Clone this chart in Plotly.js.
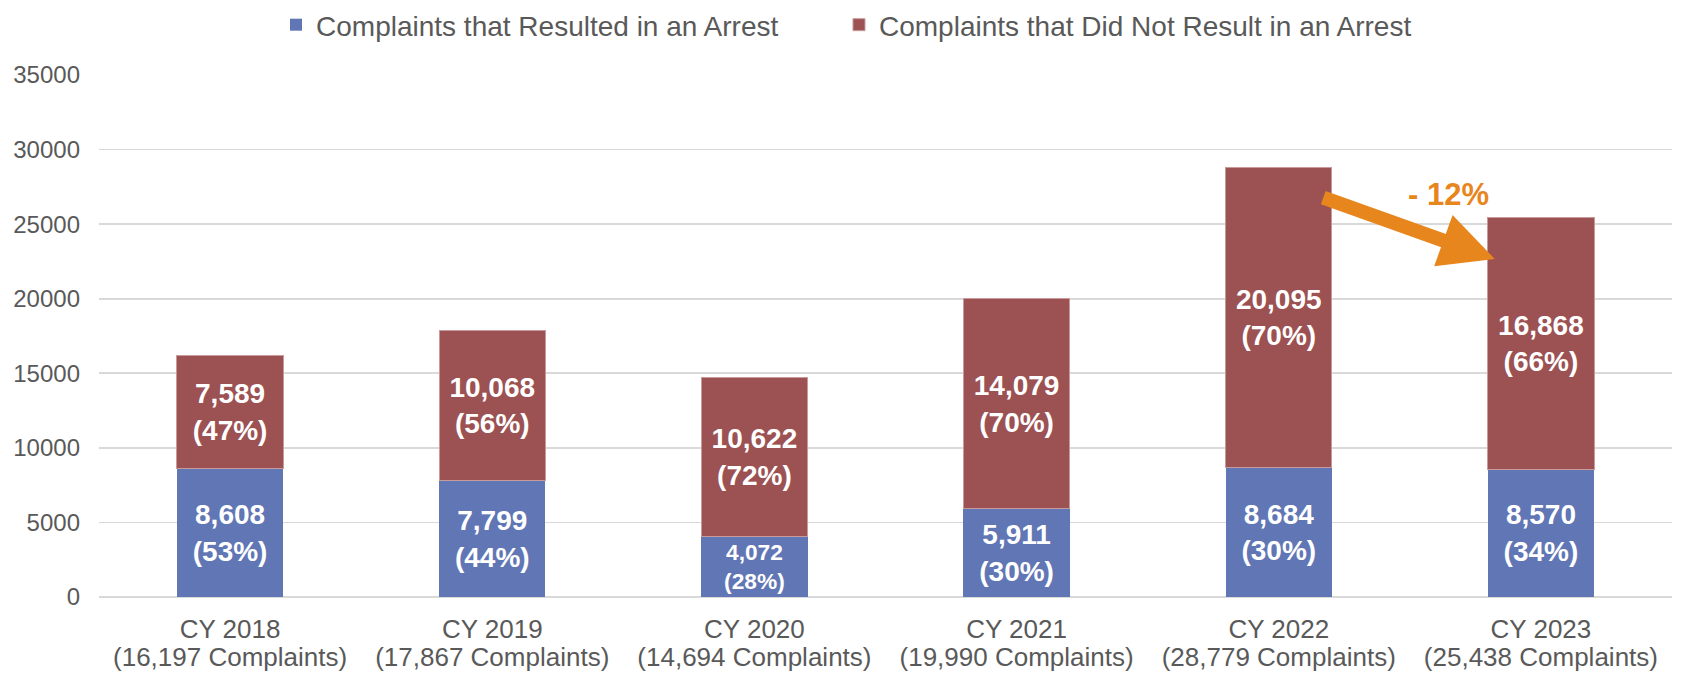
<!DOCTYPE html>
<html>
<head>
<meta charset="utf-8">
<script src="https://cdn.plot.ly/plotly-3.0.1.min.js"></script>
<style>
  html, body { margin: 0; padding: 0; background: #ffffff; }
  #chart { width: 1681px; height: 673px; }
</style>
</head>
<body>
<div id="chart"></div>
<script>
// ---- data ----
const years = ["CY 2018", "CY 2019", "CY 2020", "CY 2021", "CY 2022", "CY 2023"];
const totalLabels = ["(16,197 Complaints)", "(17,867 Complaints)", "(14,694 Complaints)", "(19,990 Complaints)", "(28,779 Complaints)", "(25,438 Complaints)"];
const arrests = [8608, 7799, 4072, 5911, 8684, 8570];
const arrestPct = [53, 44, 28, 30, 30, 34];
const noArrests = [7589, 10068, 10622, 14079, 20095, 16868];
const noArrestPct = [47, 56, 72, 70, 70, 66];
const changeLabel = "- 12%";

const FONT = '"Liberation Sans", Arial, Helvetica, sans-serif';
const fmt = v => v.toLocaleString('en-US');
const barText = (vals, pcts) => vals.map((v, i) => fmt(v) + '<br>(' + pcts[i] + '%)');

const idx = years.map((_, i) => i);

const traces = [
  {
    type: 'bar',
    name: 'Complaints that Resulted in an Arrest',
    legend: 'legend',
    x: years,
    y: arrests,
    marker: { color: '#6176B5' },
    text: barText(arrests, arrestPct),
    textposition: 'inside',
    insidetextanchor: 'middle',
    textangle: 0,
    textfont: { family: FONT, size: 28, color: '#ffffff', weight: 'bold' },
    hoverinfo: 'skip'
  },
  {
    type: 'bar',
    name: 'Complaints that Did Not Result in an Arrest',
    legend: 'legend2',
    x: years,
    y: noArrests,
    marker: { color: '#9C5152', line: { color: '#C89A9A', width: 1 } },
    text: barText(noArrests, noArrestPct),
    textposition: 'inside',
    insidetextanchor: 'middle',
    textangle: 0,
    textfont: { family: FONT, size: 28, color: '#ffffff', weight: 'bold' },
    hoverinfo: 'skip'
  },
  {
    // carrier for the second row of category labels (total complaints); draws nothing
    type: 'scatter',
    mode: 'markers',
    xaxis: 'x2',
    yaxis: 'y',
    x: idx,
    y: idx.map(() => null),
    marker: { opacity: 0 },
    showlegend: false,
    hoverinfo: 'skip'
  }
];

const legendBase = {
  orientation: 'h',
  xref: 'container', yref: 'container',
  y: 1, xanchor: 'left', yanchor: 'top',
  font: { family: FONT, size: 28, color: '#595959' },
  bgcolor: 'rgba(0,0,0,0)'
};

const layout = {
  width: 1681,
  height: 673,
  margin: { l: 99, r: 9, t: 75, b: 76 },
  paper_bgcolor: '#ffffff',
  plot_bgcolor: '#ffffff',
  font: { family: FONT, color: '#595959' },
  barmode: 'stack',
  bargap: 0.595,
  showlegend: true,
  legend: Object.assign({}, legendBase, { x: 0.1642 }),
  legend2: Object.assign({}, legendBase, { x: 0.4991 }),
  xaxis: {
    type: 'category',
    showgrid: false,
    showline: false,
    ticks: '',
    ticklabelstandoff: 14,
    tickfont: { family: FONT, size: 26, color: '#595959' },
    fixedrange: true
  },
  xaxis2: {
    overlaying: 'x',
    anchor: 'y',
    side: 'bottom',
    type: 'linear',
    range: [-0.5, 5.5],
    tickmode: 'array',
    tickvals: idx,
    ticktext: totalLabels,
    showgrid: false,
    zeroline: false,
    showline: false,
    ticks: '',
    ticklabelstandoff: 42,
    tickfont: { family: FONT, size: 26, color: '#595959' },
    fixedrange: true
  },
  yaxis: {
    range: [0, 35000],
    dtick: 5000,
    tickformat: 'd',
    showgrid: true,
    gridcolor: '#D9D9D9',
    gridwidth: 1.6,
    zeroline: true,
    zerolinecolor: '#D9D9D9',
    zerolinewidth: 2,
    showline: false,
    ticks: '',
    ticklabelstandoff: 18,
    tickfont: { family: FONT, size: 24, color: '#595959' },
    fixedrange: true
  },
  annotations: [
    {
      xref: 'x', yref: 'y', axref: 'x', ayref: 'y',
      x: 4.824, y: 22663,
      ax: 4.164, ay: 26820,
      text: '',
      showarrow: true,
      arrowhead: 2,
      arrowsize: 0.78,
      arrowwidth: 14,
      arrowcolor: '#E8861E'
    },
    {
      xref: 'x', yref: 'y',
      x: 4.649, y: 27020,
      text: '<b>' + changeLabel + '</b>',
      showarrow: false,
      font: { family: FONT, size: 31, color: '#E8861E' }
    }
  ]
};

Plotly.newPlot('chart', traces, layout, { displayModeBar: false, staticPlot: true });
</script>
</body>
</html>
